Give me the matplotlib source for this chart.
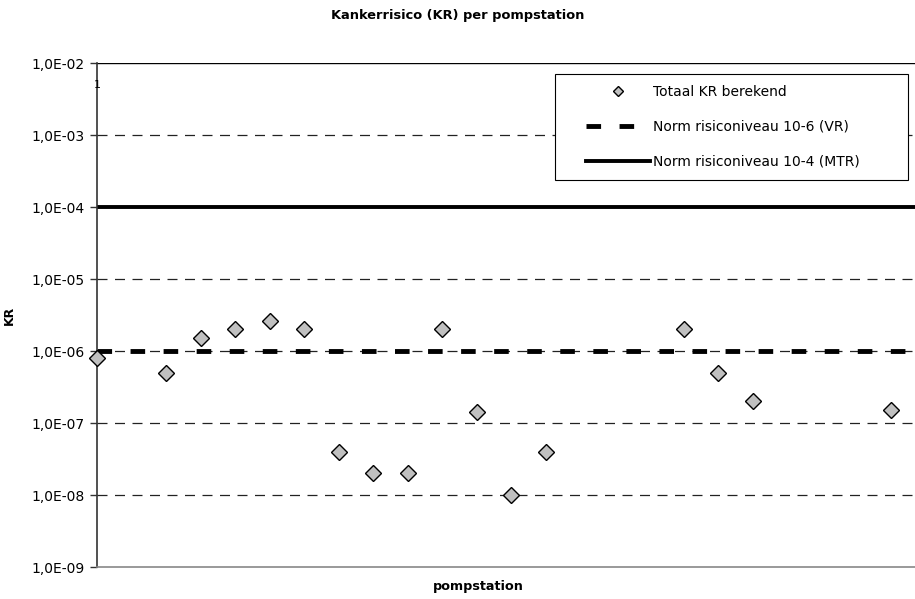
import matplotlib.pyplot as plt
from matplotlib.ticker import FixedLocator, NullLocator
from matplotlib.patches import Rectangle

# pompstation index and calculated cancer risk (KR)
station = [0, 2, 3, 4, 5, 6, 7, 8, 9, 10, 11, 12, 13, 17, 18, 19, 23]
kr = [8e-7, 5e-7, 1.5e-6, 2e-6, 2.6e-6, 2e-6, 4e-8, 2e-8, 2e-8, 2e-6,
      1.4e-7, 1e-8, 4e-8, 2e-6, 5e-7, 2e-7, 1.5e-7]
norm_vr = 1e-6
norm_mtr = 1e-4
yticks = [1e-9, 1e-8, 1e-7, 1e-6, 1e-5, 1e-4, 1e-3, 1e-2]
ylabels = ['1,0E-09', '1,0E-08', '1,0E-07', '1,0E-06', '1,0E-05', '1,0E-04', '1,0E-03', '1,0E-02']

plt.rcParams['font.family'] = 'DejaVu Sans'

fig = plt.figure(figsize=(9.15, 5.99), dpi=100)
ax = fig.add_axes([97 / 915, (599 - 567) / 599, (915 - 97) / 915, (567 - 63) / 599])

ax.set_yscale('log')
ax.set_ylim(1e-9, 1e-2)
ax.set_xlim(0, 23.7)

# gridlines
for v in yticks[1:-1]:
    ax.axhline(v, color='#222222', lw=0.9, linestyle=(0, (8, 6)), zorder=1)
ax.axhline(1e-2, color='black', lw=1.0, zorder=1)

# norm lines
ax.axhline(norm_vr, color='black', lw=3.5, linestyle=(0, (3, 3.8)), zorder=2,
           label='Norm risiconiveau 10-6 (VR)')
ax.axhline(norm_mtr, color='black', lw=2.8, zorder=2,
           label='Norm risiconiveau 10-4 (MTR)')

ax.plot(station, kr, linestyle='none', marker='D', markersize=8,
        markerfacecolor='#c0c0c0', markeredgecolor='black', markeredgewidth=1.0,
        zorder=5, clip_on=False, label='Totaal KR berekend')

ax.yaxis.set_major_locator(FixedLocator(yticks))
ax.yaxis.set_minor_locator(NullLocator())
ax.set_yticklabels(ylabels, fontsize=10)
ax.tick_params(axis='y', length=5, width=1, color='#333333', pad=4)
ax.set_xticks([])

for s in ['top', 'right']:
    ax.spines[s].set_visible(False)
ax.spines['left'].set_color('#333333')
ax.spines['left'].set_linewidth(1.2)
ax.spines['bottom'].set_color('#888888')
ax.spines['bottom'].set_linewidth(1.2)

ax.set_ylabel('KR', fontsize=9, fontweight='bold')
ax.yaxis.set_label_coords((16 - 97) / 818, 0.5)
ax.set_xlabel('pompstation', fontsize=9.2, fontweight='bold')
ax.xaxis.set_label_coords((478 - 97) / 818, -(580 - 567) / 504)
fig.text(0.5, 1 - 15 / 599, 'Kankerrisico (KR) per pompstation', ha='center', va='center',
         fontsize=9.4, fontweight='bold')

ax.text(0.0, 1 - (85 - 63) / 504, '1', transform=ax.transAxes, fontsize=8,
        ha='center', va='center')

# legend box
ax.add_patch(Rectangle(((555 - 97) / 818, 1 - (180 - 63) / 504), (908 - 555) / 818,
                       (180 - 74) / 504, transform=ax.transAxes, facecolor='white',
                       edgecolor='black', lw=0.8, zorder=6))
handles, labels = ax.get_legend_handles_labels()
order = [2, 0, 1]
leg = ax.legend([handles[i] for i in order], [labels[i] for i in order],
                loc='upper left', bbox_to_anchor=((586 - 97) / 818, 1 - (85 - 63) / 504),
                fontsize=10, frameon=False, borderpad=0, borderaxespad=0,
                labelspacing=1.5, handlelength=4.6, handletextpad=0.2,
                markerscale=0.6)
leg.set_zorder(7)

fig.savefig('out.png', dpi=100)
